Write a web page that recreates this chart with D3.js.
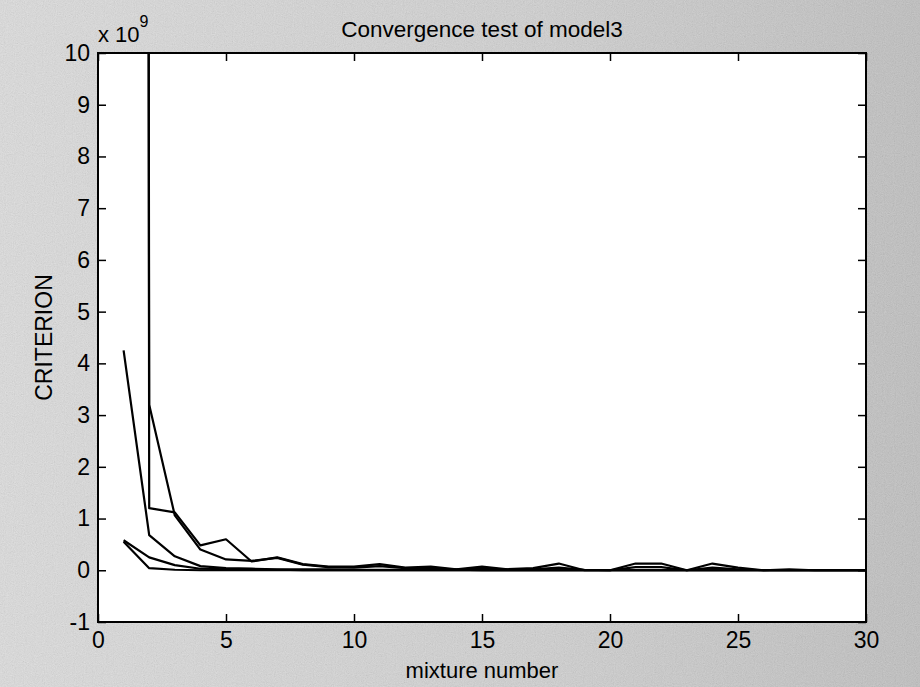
<!DOCTYPE html>
<html lang="en">
<head>
  <meta charset="UTF-8">
  <title>Convergence test of model3</title>
  <script src="https://d3js.org/d3.v7.min.js"></script>
  <style>
    body {
      margin: 0;
      background: #c8c8c8;
    }

    svg {
      display: block;
      font-family: "Liberation Sans", Arial, sans-serif;
    }

    .tick text {
      font-size: 23px;
      fill: #000;
    }

    .tick line {
      stroke: #000;
      stroke-width: 1.5;
    }

    .series {
      fill: none;
      stroke: #000;
      stroke-width: 2.2;
      stroke-linejoin: round;
    }
  </style>
</head>
<body>
  <svg id="chart"></svg>
  <script>
    // mixture number on x, criterion (x 1e9) on y
    const mixtures = [1, 2, 3, 4, 5, 6, 7, 8, 9, 10, 11, 12, 13, 14, 15,
      16, 17, 18, 19, 20, 21, 22, 23, 24, 25, 26, 27, 28, 29, 30];

    const runA = [4.25, 0.68, 0.27, 0.08, 0.04, 0.03, 0.02, 0.02, 0.02, 0.01,
      0.01, 0.01, 0.01, 0.01, 0.0, 0.0, 0.0, 0.0, 0.0, 0.0,
      0.0, 0.0, 0.0, 0.0, 0.0, 0.0, 0.0, 0.0, 0.0, 0.0];
    // first values are far above the axis limit and get clipped
    const runB = [420, 1.2, 1.12, 0.48, 0.6, 0.17, 0.25, 0.12, 0.07, 0.07,
      0.12, 0.05, 0.07, 0.02, 0.07, 0.02, 0.04, 0.13, 0.0, 0.0,
      0.13, 0.13, 0.0, 0.13, 0.05, 0.0, 0.02, 0.0, 0.0, 0.0];
    const runC = [380, 3.2, 1.06, 0.4, 0.21, 0.18, 0.24, 0.11, 0.06, 0.05,
      0.08, 0.04, 0.03, 0.02, 0.03, 0.02, 0.02, 0.05, 0.01, 0.0,
      0.06, 0.06, 0.0, 0.05, 0.02, 0.0, 0.0, 0.0, 0.0, 0.0];
    const runD = [0.58, 0.25, 0.1, 0.03, 0.02, 0.01, 0.01, 0.0, 0.0, 0.0,
      0.0, 0.0, 0.0, 0.0, 0.0, 0.0, 0.0, 0.0, 0.0, 0.0,
      0.0, 0.0, 0.0, 0.0, 0.0, 0.0, 0.0, 0.0, 0.0, 0.0];
    const runE = [0.55, 0.04, 0.01, 0.0, 0.0, 0.0, 0.0, 0.0, 0.0, 0.0,
      0.0, 0.0, 0.0, 0.0, 0.0, 0.0, 0.0, 0.0, 0.0, 0.0,
      0.0, 0.0, 0.0, 0.0, 0.0, 0.0, 0.0, 0.0, 0.0, 0.0];

    const runs = [runA, runB, runC, runD, runE];

    const xTicks = [0, 5, 10, 15, 20, 25, 30];
    const yTicks = [-1, 0, 1, 2, 3, 4, 5, 6, 7, 8, 9, 10];

    const width = 920;
    const height = 687;
    const margin = { top: 53, right: 54, bottom: 65, left: 98 };

    const svg = d3.select("#chart")
      .attr("width", width)
      .attr("height", height);

    const defs = svg.append("defs");

    // figure background, scanned grey
    const grad = defs.append("linearGradient")
      .attr("id", "bg")
      .attr("x1", "0").attr("x2", "1").attr("y1", "0").attr("y2", "0");
    grad.append("stop").attr("offset", "0").attr("stop-color", "#e0e0e0");
    grad.append("stop").attr("offset", "0.6").attr("stop-color", "#d2d2d2");
    grad.append("stop").attr("offset", "1").attr("stop-color", "#c0c0c0");

    const grain = defs.append("filter")
      .attr("id", "grain")
      .attr("x", 0).attr("y", 0).attr("width", 1).attr("height", 1);
    grain.append("feTurbulence")
      .attr("type", "fractalNoise")
      .attr("baseFrequency", 0.9)
      .attr("numOctaves", 2)
      .attr("seed", 3);
    grain.append("feColorMatrix")
      .attr("type", "matrix")
      .attr("values", "0.33 0.33 0.33 0 0  0.33 0.33 0.33 0 0  0.33 0.33 0.33 0 0  0 0 0 0 1");

    svg.append("rect")
      .attr("width", width)
      .attr("height", height)
      .attr("fill", "url(#bg)");

    svg.append("rect")
      .attr("width", width)
      .attr("height", height)
      .attr("filter", "url(#grain)")
      .attr("opacity", 0.22);

    defs.append("clipPath")
      .attr("id", "plot-clip")
      .append("rect")
      .attr("x", margin.left)
      .attr("y", margin.top)
      .attr("width", width - margin.left - margin.right)
      .attr("height", height - margin.top - margin.bottom);

    const x = d3.scaleLinear()
      .domain([0, 30])
      .range([margin.left, width - margin.right]);

    const y = d3.scaleLinear()
      .domain([-1, 10])
      .range([height - margin.bottom, margin.top]);

    // white axes area
    svg.append("rect")
      .attr("x", margin.left)
      .attr("y", margin.top)
      .attr("width", x(30) - x(0))
      .attr("height", y(-1) - y(10))
      .attr("fill", "#fff");

    // lines
    const line = d3.line()
      .x((d, i) => x(mixtures[i]))
      .y(d => y(d));

    svg.append("g")
      .attr("clip-path", "url(#plot-clip)")
      .selectAll("path")
      .data(runs)
      .join("path")
      .attr("class", "series")
      .attr("d", line);

    // axes, ticks pointing inward like matlab
    const tickLen = 8;
    const plain = d => String(d);

    const gx = svg.append("g")
      .attr("transform", `translate(0, ${y(-1)})`)
      .call(d3.axisBottom(x).tickValues(xTicks).tickFormat(plain)
        .tickSizeInner(-tickLen).tickSizeOuter(0).tickPadding(10));
    gx.select(".domain").remove();

    const gxTop = svg.append("g")
      .attr("transform", `translate(0, ${y(10)})`)
      .call(d3.axisTop(x).tickValues(xTicks).tickSizeInner(-tickLen)
        .tickSizeOuter(0).tickFormat(""));
    gxTop.select(".domain").remove();

    const gy = svg.append("g")
      .attr("transform", `translate(${x(0)}, 0)`)
      .call(d3.axisLeft(y).tickValues(yTicks).tickFormat(plain)
        .tickSizeInner(-tickLen).tickSizeOuter(0).tickPadding(8));
    gy.select(".domain").remove();

    const gyRight = svg.append("g")
      .attr("transform", `translate(${x(30)}, 0)`)
      .call(d3.axisRight(y).tickValues(yTicks).tickSizeInner(-tickLen)
        .tickSizeOuter(0).tickFormat(""));
    gyRight.select(".domain").remove();

    // axes box
    svg.append("rect")
      .attr("x", x(0))
      .attr("y", y(10))
      .attr("width", x(30) - x(0))
      .attr("height", y(-1) - y(10))
      .attr("fill", "none")
      .attr("stroke", "#000")
      .attr("stroke-width", 2);

    // exponent label
    const expo = svg.append("text")
      .attr("x", x(0))
      .attr("y", 42)
      .attr("font-size", 22);
    expo.append("tspan").text("x 10");
    expo.append("tspan")
      .attr("dy", -15)
      .attr("font-size", 16)
      .text("9");

    // title and axis labels
    svg.append("text")
      .attr("x", (x(0) + x(30)) / 2)
      .attr("y", 37)
      .attr("text-anchor", "middle")
      .attr("font-size", 22.5)
      .text("Convergence test of model3");

    svg.append("text")
      .attr("x", (x(0) + x(30)) / 2)
      .attr("y", 678)
      .attr("text-anchor", "middle")
      .attr("font-size", 22)
      .text("mixture number");

    svg.append("text")
      .attr("transform", `translate(52, ${(y(-1) + y(10)) / 2}) rotate(-90)`)
      .attr("text-anchor", "middle")
      .attr("font-size", 23)
      .text("CRITERION");
  </script>
</body>
</html>
